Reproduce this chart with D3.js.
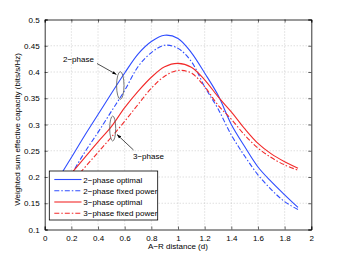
<!DOCTYPE html>
<html><head><meta charset="utf-8">
<script src="https://cdn.jsdelivr.net/npm/d3@7"></script>
<style>
html,body{margin:0;padding:0;background:#fff;}
text{font-family:"Liberation Sans",Arial,sans-serif;}
</style></head>
<body>
<svg id="c" width="344" height="259"></svg>
<script>
const distances = [0.1,0.2,0.3,0.4,0.5,0.6,0.7,0.8,0.9,1.0,1.1,1.2,1.3,1.4,1.5,1.6,1.7,1.8,1.9];
const twoPhaseOptimal = [0.196,0.237,0.279,0.319,0.359,0.398,0.434,0.458,0.470,0.464,0.437,0.398,0.356,0.300,0.258,0.219,0.191,0.166,0.142];
const twoPhaseFixed   = [0.165,0.205,0.247,0.285,0.325,0.365,0.410,0.437,0.451,0.445,0.420,0.372,0.330,0.280,0.240,0.204,0.176,0.153,0.138];
const threePhaseOptimal = [0.180,0.207,0.237,0.267,0.296,0.332,0.363,0.390,0.410,0.4165,0.409,0.385,0.353,0.324,0.292,0.264,0.244,0.229,0.2166];
const threePhaseFixed   = [0.165,0.190,0.218,0.247,0.276,0.306,0.338,0.369,0.392,0.403,0.398,0.372,0.337,0.310,0.280,0.255,0.237,0.223,0.213];
const seriesNames = ["2\u2212phase optimal","2\u2212phase fixed power","3\u2212phase optimal","3\u2212phase fixed power"];
const xTicks = [0,0.2,0.4,0.6,0.8,1,1.2,1.4,1.6,1.8,2];
const yTicks = [0.1,0.15,0.2,0.25,0.3,0.35,0.4,0.45,0.5];

const blue = "#2f4dff", red = "#f22a2a";
const series = [
  {name:seriesNames[0], values:twoPhaseOptimal, color:blue, dash:null},
  {name:seriesNames[1], values:twoPhaseFixed, color:blue, dash:"5,2,1.5,2"},
  {name:seriesNames[2], values:threePhaseOptimal, color:red, dash:null},
  {name:seriesNames[3], values:threePhaseFixed, color:red, dash:"5,2,1.5,2"}
];

const svg = d3.select("#c");
const L=44.7, R=311.3, T=19.5, B=229.5;
const x = d3.scaleLinear().domain([0,2]).range([L,R]);
const y = d3.scaleLinear().domain([0.1,0.5]).range([B,T]);

// grid
const g = svg.append("g");
g.selectAll(".gx").data(xTicks.slice(1,-1)).enter().append("line")
  .attr("x1",d=>x(d)).attr("x2",d=>x(d)).attr("y1",T).attr("y2",B)
  .attr("stroke","#b0b0b0").attr("stroke-width",0.6).attr("stroke-dasharray","1,2");
g.selectAll(".gy").data(yTicks.slice(1,-1)).enter().append("line")
  .attr("x1",L).attr("x2",R).attr("y1",d=>y(d)).attr("y2",d=>y(d))
  .attr("stroke","#b0b0b0").attr("stroke-width",0.6).attr("stroke-dasharray","1,2");

// axes
const fmtX = d=>String(d);
const fmtY = d=>String(+d.toFixed(2));
const axB = svg.append("g").attr("transform",`translate(0,${B})`)
  .call(d3.axisBottom(x).tickValues(xTicks).tickFormat(fmtX).tickSize(-3).tickPadding(6));
const axT = svg.append("g").attr("transform",`translate(0,${T})`)
  .call(d3.axisTop(x).tickValues(xTicks).tickFormat("").tickSize(-3));
const axL = svg.append("g").attr("transform",`translate(${L},0)`)
  .call(d3.axisLeft(y).tickValues(yTicks).tickFormat(fmtY).tickSize(-3).tickPadding(5));
const axR = svg.append("g").attr("transform",`translate(${R},0)`)
  .call(d3.axisRight(y).tickValues(yTicks).tickFormat("").tickSize(-3));
[axB,axT,axL,axR].forEach(a=>{
  a.select(".domain").attr("stroke","#000").attr("stroke-width",0.8);
  a.selectAll(".tick line").attr("stroke","#000").attr("stroke-width",0.6);
  a.selectAll("text").attr("font-size","8px").attr("fill","#000").attr("font-family","'Liberation Sans',Arial,sans-serif");
});

// lines
const line = d3.line().x((d,i)=>x(distances[i])).y(d=>y(d)).curve(d3.curveCatmullRom.alpha(0.5));
svg.append("defs").append("clipPath").attr("id","clip").append("rect")
  .attr("x",L).attr("y",T).attr("width",R-L).attr("height",B-T);
const lg = svg.append("g").attr("clip-path","url(#clip)");
series.forEach(s=>{
  lg.append("path").attr("d",line(s.values)).attr("fill","none")
    .attr("stroke",s.color).attr("stroke-width",1.1)
    .attr("stroke-dasharray",s.dash);
});

// annotations
const defs = svg.select("defs");
defs.append("marker").attr("id","ah").attr("viewBox","0 0 10 10").attr("refX",10).attr("refY",5)
  .attr("markerWidth",6).attr("markerHeight",6).attr("orient","auto")
  .append("path").attr("d","M0,1.5 L10,5 L0,8.5 Z").attr("fill","#000");
svg.append("ellipse").attr("cx",120.3).attr("cy",85.5).attr("rx",3.7).attr("ry",13.8)
  .attr("fill","none").attr("stroke","#555").attr("stroke-width",0.8);
svg.append("ellipse").attr("cx",112.7).attr("cy",128.5).attr("rx",3).attr("ry",12.5)
  .attr("fill","none").attr("stroke","#555").attr("stroke-width",0.8);
svg.append("line").attr("x1",97).attr("y1",63.5).attr("x2",116.5).attr("y2",74.5)
  .attr("stroke","#000").attr("stroke-width",0.7).attr("marker-end","url(#ah)");
svg.append("line").attr("x1",133.5).attr("y1",150).attr("x2",117).attr("y2",134.5)
  .attr("stroke","#000").attr("stroke-width",0.7).attr("marker-end","url(#ah)");
svg.append("text").attr("x",63).attr("y",62).attr("font-size","8px").text("2\u2212phase");
svg.append("text").attr("x",133).attr("y",159).attr("font-size","8px").text("3\u2212phase");

// legend
const lgX=49.3, lgY=171, lgW=108.4, lgH=49;
svg.append("rect").attr("x",lgX).attr("y",lgY).attr("width",lgW).attr("height",lgH)
  .attr("fill","#fff").attr("stroke","#000").attr("stroke-width",0.8);
const rowY=[179.5,190.8,202,213.3];
series.forEach((s,i)=>{
  svg.append("line").attr("x1",54.3).attr("x2",81.5).attr("y1",rowY[i]).attr("y2",rowY[i])
    .attr("stroke",s.color).attr("stroke-width",1.1).attr("stroke-dasharray",s.dash);
  svg.append("text").attr("x",83.3).attr("y",rowY[i]+3).attr("font-size","8px").text(s.name);
});

// axis labels
svg.append("text").attr("x",(L+R)/2).attr("y",249).attr("text-anchor","middle").attr("font-size","8px")
  .text("A\u2212R distance (d)");
svg.append("text").attr("transform",`translate(20,${(T+B)/2+5}) rotate(-90)`).attr("text-anchor","middle")
  .attr("font-size","8px").text("Weighted sum effective capacity (bits/s/Hz)");
</script>
</body></html>
